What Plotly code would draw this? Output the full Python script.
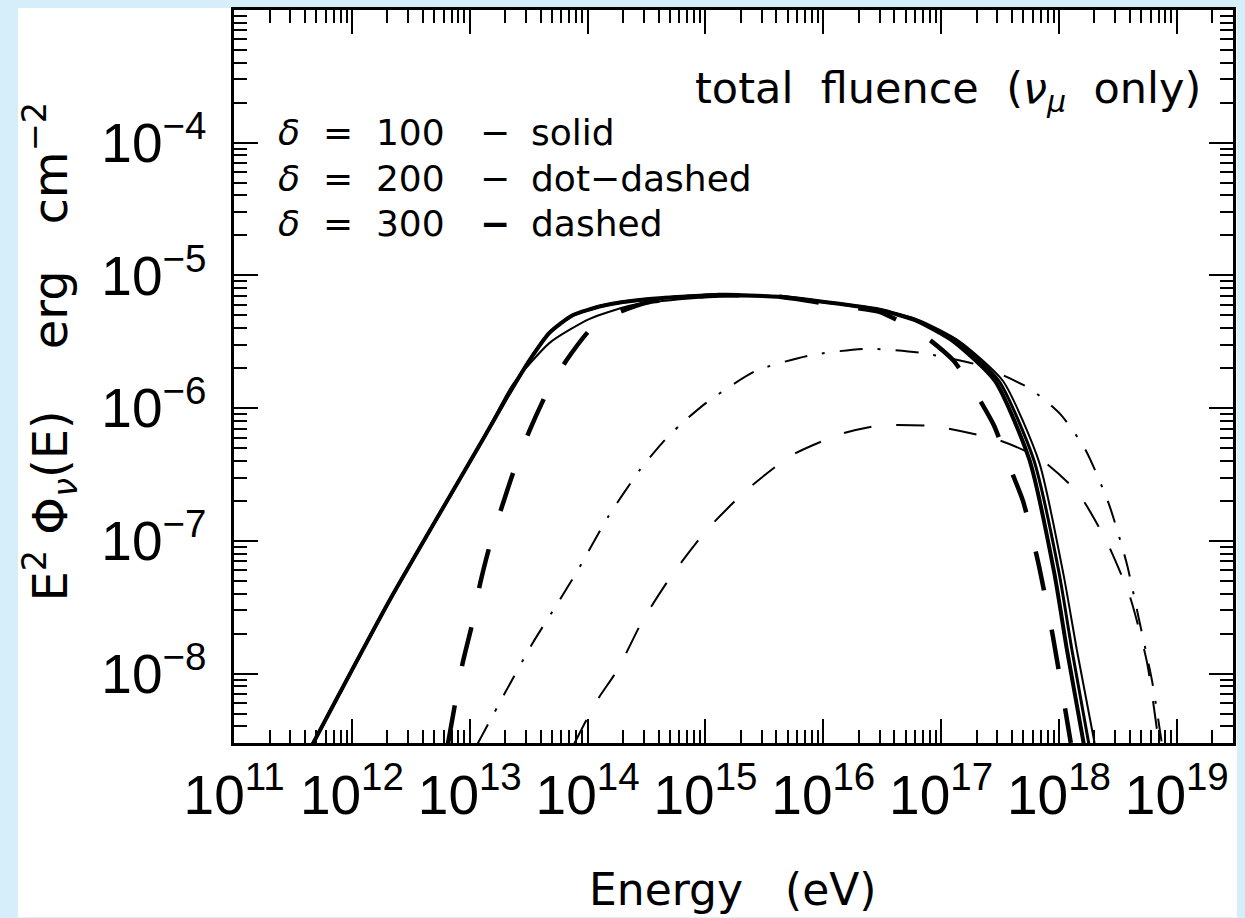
import plotly.graph_objects as go

# ---------------- data ----------------
# delta = 100, thick solid
E_solid_thick = [4.6e11, 2.1e12, 1.29e13, 2.06e13, 3.22e13, 4.76e13, 7.46e13, 1.34e14, 3.16e14,
                 1.3e15, 4.2e15, 1.37e16, 3.0e16, 6.0e16, 1.26e17, 2.87e17, 5.6e17, 9.1e17, 1.17e18, 1.63e18]
F_solid_thick = [2.9e-9, 3.6e-8, 5.8e-7, 1.2e-6, 2.3e-6, 3.7e-6, 5.0e-6, 5.9e-6, 6.6e-6,
                 7.1e-6, 6.9e-6, 6.1e-6, 5.5e-6, 4.6e-6, 3.2e-6, 1.6e-6, 4.1e-7, 5.8e-8, 1.5e-8, 2.9e-9]

# second solid-looking curve (overlaps the thick one on the rise)
E_solid_mid = [4.6e11, 2.1e12, 1.29e13, 2.06e13, 3.22e13, 4.76e13, 7.46e13, 1.34e14, 3.16e14,
               1.3e15, 4.2e15, 1.37e16, 3.0e16, 6.0e16, 1.37e17, 3.1e17, 6.1e17, 1.0e18, 1.29e18, 1.8e18]
F_solid_mid = [2.9e-9, 3.6e-8, 5.8e-7, 1.2e-6, 2.3e-6, 3.7e-6, 5.0e-6, 5.9e-6, 6.6e-6,
               7.1e-6, 6.9e-6, 6.1e-6, 5.5e-6, 4.6e-6, 3.2e-6, 1.6e-6, 4.1e-7, 5.8e-8, 1.5e-8, 2.9e-9]

# thin solid
E_solid_thin = [4.6e11, 2.1e12, 1.29e13, 2.31e13, 4.76e13, 1.04e14, 2.27e14, 6.0e14,
                1.3e15, 4.2e15, 1.37e16, 3.0e16, 6.5e16, 1.42e17, 3.35e17, 6.8e17, 1.10e18, 1.42e18, 2.02e18]
F_solid_thin = [2.9e-9, 3.6e-8, 5.8e-7, 1.5e-6, 3.1e-6, 4.7e-6, 5.9e-6, 6.6e-6,
                6.9e-6, 6.9e-6, 6.1e-6, 5.5e-6, 4.6e-6, 3.2e-6, 1.6e-6, 3.9e-7, 5.4e-8, 1.5e-8, 2.9e-9]

# delta = 300, thick dashed
E_dash_thick = [6.5e12, 8.7e12, 1.04e13, 1.22e13, 1.48e13, 1.87e13, 2.40e13, 3.22e13, 4.50e13, 6.64e13,
                1.08e14, 1.87e14, 3.35e14, 6.0e14, 1.3e15, 4.2e15, 1.37e16, 3.0e16, 6.9e16, 1.26e17,
                1.94e17, 2.81e17, 3.77e17, 4.95e17, 6.64e17, 8.89e17, 1.10e18, 1.26e18]
F_dash_thick = [2.9e-9, 1.2e-8, 2.3e-8, 4.7e-8, 9.3e-8, 1.8e-7, 3.5e-7, 6.8e-7, 1.3e-6, 2.3e-6,
                4.0e-6, 5.3e-6, 6.3e-6, 6.7e-6, 7.1e-6, 6.9e-6, 5.9e-6, 5.3e-6, 3.6e-6, 2.3e-6,
                1.32e-6, 7.4e-7, 3.7e-7, 2.0e-7, 7.0e-8, 1.9e-8, 6.2e-9, 3.0e-9]

# delta = 200, thin dot-dashed
E_dashdot_thin = [1.15e13, 1.98e13, 3.42e13, 5.46e13, 8.07e13, 1.48e14, 2.76e14, 4.32e14, 6.03e14, 1.02e15,
                  2.65e15, 7.76e15, 2.36e16, 6.90e16, 2.10e17, 5.68e17, 1.04e18, 1.69e18, 2.65e18, 3.77e18,
                  4.76e18, 6.14e18, 7.46e18]
F_dashdot_thin = [2.9e-9, 7.1e-9, 1.7e-8, 3.3e-8, 5.8e-8, 1.5e-7, 3.4e-7, 5.5e-7, 7.4e-7, 1.1e-6,
                  1.9e-6, 2.5e-6, 2.8e-6, 2.6e-6, 2.1e-6, 1.4e-6, 8.9e-7, 4.8e-7, 1.9e-7, 6.7e-8,
                  2.6e-8, 9.0e-9, 3.0e-9]

# delta = 300, thin dashed
E_dash_thin = [7.6e13, 9.8e13, 1.26e14, 1.80e14, 2.92e14, 5.25e14, 1.02e15, 2.22e15, 5.36e15, 1.42e16,
               2.99e16, 8.73e16, 3.16e17, 6.78e17, 1.45e18, 2.55e18, 4.0e18, 5.57e18, 7.03e18]
F_dash_thin = [2.9e-9, 4.5e-9, 6.7e-9, 1.07e-8, 2.5e-8, 5.6e-8, 1.2e-7, 2.4e-7, 4.4e-7, 6.4e-7,
               7.4e-7, 7.3e-7, 5.7e-7, 4.2e-7, 2.3e-7, 9.8e-8, 3.8e-8, 1.23e-8, 3.0e-9]

legend_delta = ["<i>δ</i>  =  100", "<i>δ</i>  =  200", "<i>δ</i>  =  300"]
legend_mark = ["−", "−", "<b>−</b>"]
legend_style = ["solid", "dot−dashed", "dashed"]

# ---------------- figure ----------------
W, H = 1245, 918
L, R, T, B = 234, 1233, 7, 743
TICKFONT = "Liberation Sans"
TEXTFONT = "DejaVu Sans"


def px(x):
    return (x - L) / (R - L)


def py(y):
    return (B - y) / (B - T)


fig = go.Figure()

series = [
    (E_solid_thick, F_solid_thick, 4.0, "solid"),
    (E_solid_mid, F_solid_mid, 3.0, "solid"),
    (E_solid_thin, F_solid_thin, 2.0, "solid"),
    (E_dash_thick, F_dash_thick, 4.5, "40px,40px"),
    (E_dashdot_thin, F_dashdot_thin, 2.0, "23px,15px,3px,15px"),
    (E_dash_thin, F_dash_thin, 2.0, "28px,25px"),
]
for ex, fy, w, d in series:
    fig.add_trace(go.Scatter(x=ex, y=fy, mode="lines",
                             line=dict(color="black", width=w, dash=d, shape="spline", smoothing=0.6),
                             showlegend=False, hoverinfo="skip"))

axis_common = dict(
    type="log", showgrid=False, zeroline=False,
    showline=True, linecolor="black", linewidth=2.5, mirror="allticks",
    ticks="inside", ticklen=24, tickwidth=2, tickcolor="black",
    dtick=1, exponentformat="power",
    tickfont=dict(family=TICKFONT, size=44, color="black"),
    minor=dict(ticks="inside", ticklen=13, tickwidth=2, tickcolor="black", dtick="D1", showgrid=False),
)

fig.update_xaxes(range=[10.999, 19.477], ticklabelstandoff=4, **axis_common)
fig.update_yaxes(range=[-8.523, -3.001], ticklabelstandoff=16, **axis_common)

annotations = [
    dict(text="Energy   (eV)", x=px(733), y=py(890), xanchor="center", yanchor="middle",
         font=dict(family=TEXTFONT, size=44, color="black")),
    dict(text="E<sup>2</sup> Φ<sub><i>ν</i></sub>(E)    erg   cm<sup>−2</sup>", x=px(50), y=py(350),
         xanchor="center", yanchor="middle", textangle=-90,
         font=dict(family=TEXTFONT, size=48, color="black")),
    dict(text="total  fluence  (<i>ν</i><sub><i>μ</i></sub>  only)", x=px(1203), y=py(88),
         xanchor="right", yanchor="middle", font=dict(family=TEXTFONT, size=43, color="black")),
]
for t1, t2, t3, yc in zip(legend_delta, legend_mark, legend_style, [130, 176, 221]):
    annotations.append(dict(text=t1, x=px(276), y=py(yc), xanchor="left", yanchor="middle",
                            font=dict(family=TEXTFONT, size=36, color="black")))
    annotations.append(dict(text=t2, x=px(495), y=py(yc), xanchor="center", yanchor="middle",
                            font=dict(family=TEXTFONT, size=36, color="black")))
    annotations.append(dict(text=t3, x=px(529), y=py(yc), xanchor="left", yanchor="middle",
                            font=dict(family=TEXTFONT, size=36, color="black")))
for a in annotations:
    a.update(xref="paper", yref="paper", showarrow=False)

fig.update_layout(
    width=W, height=H,
    margin=dict(l=L, r=W - R, t=T, b=H - B, pad=0),
    paper_bgcolor="#d6eef9", plot_bgcolor="white",
    annotations=annotations,
    shapes=[dict(type="rect", xref="paper", yref="paper", layer="below",
                 x0=px(18), x1=px(1237), y0=py(918), y1=py(5),
                 fillcolor="white", line=dict(width=0))],
)

fig.write_html("out.html")
